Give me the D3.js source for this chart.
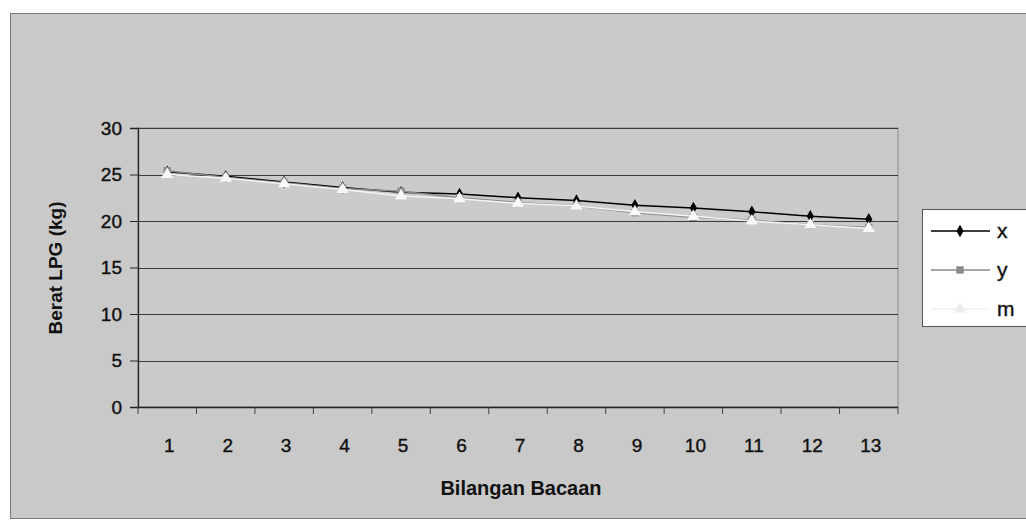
<!DOCTYPE html>
<html>
<head>
<meta charset="utf-8">
<script src="https://cdn.jsdelivr.net/npm/d3@7"></script>
<style>
  body { margin: 0; background: #fff; }
  svg { display: block; font-family: "Liberation Sans", Arial, sans-serif; }
</style>
</head>
<body>
<svg id="chart" width="1026" height="522"></svg>
<script>
// Chart data
const categories = ["1", "2", "3", "4", "5", "6", "7", "8", "9", "10", "11", "12", "13"];
const seriesX = [25.3, 24.8, 24.2, 23.6, 23.1, 22.9, 22.5, 22.2, 21.7, 21.4, 21.0, 20.5, 20.2];
const seriesY = [25.4, 24.7, 24.1, 23.5, 23.2, 22.5, 22.0, 21.6, 20.9, 20.4, 20.1, 19.6, 19.3];
const seriesM = [25.0, 24.6, 24.0, 23.4, 22.7, 22.4, 21.9, 21.6, 21.0, 20.5, 20.0, 19.6, 19.2];
const yTicks = [0, 5, 10, 15, 20, 25, 30];

const series = [
  { name: "x", values: seriesX, line: "#000", fill: "#000", symbol: d3.symbolDiamond, size: 45 },
  { name: "y", values: seriesY, line: "#8a8a8a", fill: "#8c8c8c", symbol: d3.symbolSquare, size: 55 },
  { name: "m", values: seriesM, line: "#f4f4f4", fill: "#f8f8f8", symbol: d3.symbolTriangle, size: 65 }
];

const svg = d3.select("#chart");
const plot = { left: 138, right: 898, top: 128, bottom: 407 };

// Outer chart area
svg.append("rect")
  .attr("x", 10.5).attr("y", 13.5)
  .attr("width", 1030).attr("height", 505)
  .attr("fill", "#c9c9c9")
  .attr("stroke", "#7a7a7a");

const x = d3.scaleBand().domain(categories).range([plot.left, plot.right]);
const y = d3.scaleLinear().domain([0, 30]).range([plot.bottom, plot.top]);

// Plot area
svg.append("rect")
  .attr("x", plot.left).attr("y", plot.top)
  .attr("width", plot.right - plot.left).attr("height", plot.bottom - plot.top)
  .attr("fill", "#cbcbcb")
  .attr("stroke", "#8a8a8a");

// Gridlines
svg.append("g")
  .selectAll("line")
  .data(yTicks.filter(d => d > 0))
  .enter().append("line")
  .attr("x1", plot.left).attr("x2", plot.right)
  .attr("y1", d => Math.round(y(d)) + 0.5).attr("y2", d => Math.round(y(d)) + 0.5)
  .attr("stroke", "#3a3a3a").attr("stroke-width", 1.2);

// Y axis
const yAxis = svg.append("g")
  .attr("transform", `translate(${plot.left},0)`)
  .call(d3.axisLeft(y).tickValues(yTicks).tickSize(8).tickPadding(8));
yAxis.select(".domain").attr("stroke", "#222").attr("stroke-width", 1.3);
yAxis.selectAll(".tick line").attr("stroke", "#222");
yAxis.selectAll("text")
  .attr("font-size", 19).attr("fill", "#111")
  .attr("stroke", "#111").attr("stroke-width", 0.4)
  .attr("font-family", "Liberation Sans, Arial, sans-serif");

// X axis: ticks at category boundaries
const xAxisG = svg.append("g")
  .attr("transform", `translate(0,${plot.bottom})`);
xAxisG.append("line")
  .attr("x1", plot.left).attr("x2", plot.right)
  .attr("y1", 0.5).attr("y2", 0.5)
  .attr("stroke", "#222").attr("stroke-width", 1.3);
xAxisG.selectAll("line.tick")
  .data(categories.concat(["end"]))
  .enter().append("line")
  .attr("class", "tick")
  .attr("x1", (d, i) => plot.left + i * x.step())
  .attr("x2", (d, i) => plot.left + i * x.step())
  .attr("y1", 0).attr("y2", 7)
  .attr("stroke", "#444");
xAxisG.selectAll("text")
  .data(categories)
  .enter().append("text")
  .attr("x", d => x(d) + x.bandwidth() / 2 + 2)
  .attr("y", 45)
  .attr("text-anchor", "middle")
  .attr("font-size", 19).attr("fill", "#111")
  .attr("stroke", "#111").attr("stroke-width", 0.4)
  .text(d => d);

// Axis titles
svg.append("text")
  .attr("transform", "translate(62,268) rotate(-90)")
  .attr("text-anchor", "middle")
  .attr("font-size", 19).attr("font-weight", "bold").attr("fill", "#111")
  .text("Berat LPG (kg)");

svg.append("text")
  .attr("x", 521).attr("y", 495)
  .attr("text-anchor", "middle")
  .attr("font-size", 20).attr("font-weight", "bold").attr("fill", "#111")
  .text("Bilangan Bacaan");

// Lines and markers, drawn in series order so m sits on top
const line = d3.line()
  .x((d, i) => x(categories[i]) + x.bandwidth() / 2)
  .y(d => y(d));

series.forEach(s => {
  svg.append("path")
    .datum(s.values)
    .attr("fill", "none")
    .attr("stroke", s.line)
    .attr("stroke-width", 1.5)
    .attr("d", line);
  svg.append("g")
    .selectAll("path")
    .data(s.values)
    .enter().append("path")
    .attr("transform", (d, i) => `translate(${x(categories[i]) + x.bandwidth() / 2},${y(d)})`)
    .attr("d", d3.symbol().type(s.symbol).size(s.size))
    .attr("fill", s.fill);
});

// Legend
const legend = svg.append("g");
legend.append("rect")
  .attr("x", 922.5).attr("y", 209.5)
  .attr("width", 110).attr("height", 117)
  .attr("fill", "#fff")
  .attr("stroke", "#555");

const legendY = [231, 270, 309];
series.forEach((s, i) => {
  const g = legend.append("g").attr("transform", `translate(0,${legendY[i]})`);
  g.append("line")
    .attr("x1", 931).attr("x2", 990)
    .attr("y1", 0).attr("y2", 0)
    .attr("stroke", s.name === "m" ? "#f0f0f0" : s.line)
    .attr("stroke-width", 1.6);
  g.append("path")
    .attr("transform", "translate(960,0)")
    .attr("d", d3.symbol().type(s.symbol).size(s.size))
    .attr("fill", s.name === "m" ? "#ececec" : s.fill);
  g.append("text")
    .attr("x", 997).attr("y", 7)
    .attr("font-size", 21).attr("fill", "#111")
    .attr("stroke", "#111").attr("stroke-width", 0.4)
    .text(s.name);
});
</script>
</body>
</html>
